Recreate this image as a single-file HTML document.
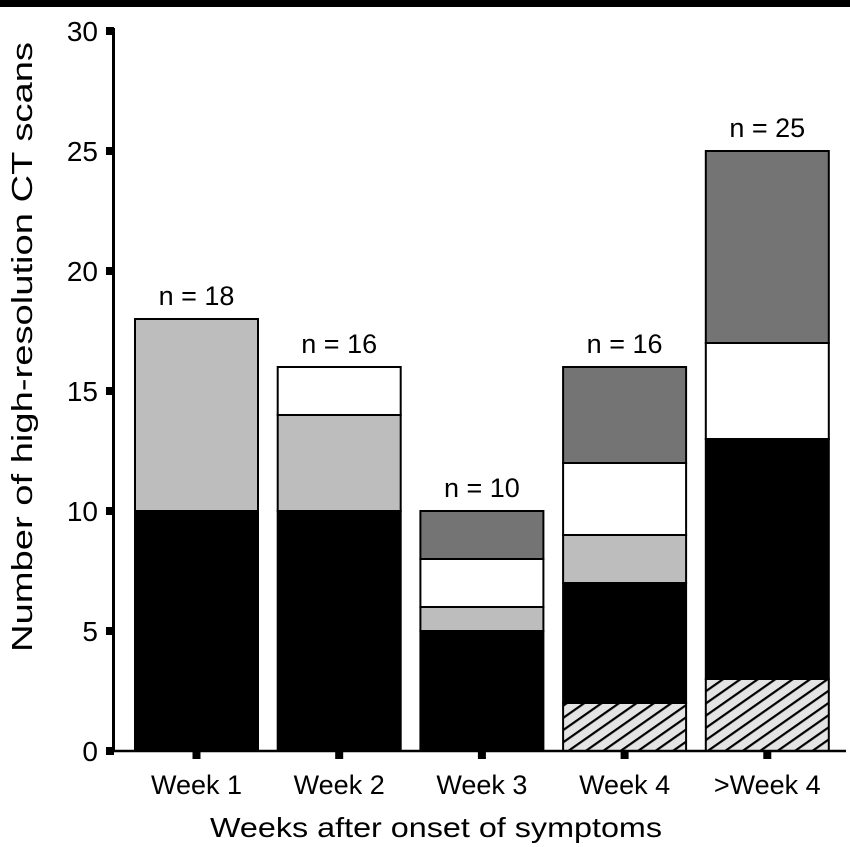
<!DOCTYPE html>
<html><head><meta charset="utf-8"><style>
body{margin:0;background:#fff;}
svg{display:block;font-family:"Liberation Sans",Arial,sans-serif;}
</style></head><body>
<svg id="chart" width="850" height="847" viewBox="0 0 850 847">
<defs>
<pattern id="hatch" patternUnits="userSpaceOnUse" width="10" height="10" patternTransform="rotate(-35)">
<rect width="10" height="10" fill="#e4e4e4"/>
<rect x="0" y="0" width="10" height="2.2" fill="#000"/>
</pattern>
</defs>
<rect x="0" y="0" width="850" height="7" fill="#000"/>
<g id="bars"></g>
<g id="axes"></g>
<text x="32" y="347" transform="rotate(-90 32 347)" text-anchor="middle" font-size="29" textLength="610" lengthAdjust="spacingAndGlyphs" fill="#000">Number of high-resolution CT scans</text>
<text x="436" y="837" text-anchor="middle" font-size="28" textLength="452" lengthAdjust="spacingAndGlyphs" fill="#000">Weeks after onset of symptoms</text>
</svg>
<script>
const categories = ["Week 1","Week 2","Week 3","Week 4",">Week 4"];
const hatched   = [0,0,0,2,3];
const black     = [10,10,5,5,10];
const lightGray = [8,4,1,2,0];
const white     = [0,2,2,3,4];
const darkGray  = [0,0,2,4,8];
const totalLabels = ["n = 18","n = 16","n = 10","n = 16","n = 25"];
const yTicks = [0,5,10,15,20,25,30];

const ns="http://www.w3.org/2000/svg";
const y0=751, pxPerUnit=24;
const yScale=v=>y0-v*pxPerUnit;
const xCenter=i=>196.5+i*142.7;
const barW=123;
const series=[
 {vals:hatched, fill:"url(#hatch)", name:"hatched"},
 {vals:black, fill:"#000", name:"black"},
 {vals:lightGray, fill:"#bdbdbd", name:"light-gray"},
 {vals:white, fill:"#fff", name:"white"},
 {vals:darkGray, fill:"#747474", name:"dark-gray"}
];
const bars=document.getElementById('bars');
const axes=document.getElementById('axes');
function mk(tag,attrs,parent){const e=document.createElementNS(ns,tag);for(const k in attrs)e.setAttribute(k,attrs[k]);parent.appendChild(e);return e;}
categories.forEach((c,i)=>{
  let cum=0;
  const x=xCenter(i)-barW/2;
  series.forEach(s=>{
    const v=s.vals[i];
    if(v>0){
      const r=mk('rect',{x:x,y:yScale(cum+v),width:barW,height:v*pxPerUnit,fill:s.fill,stroke:"#000","stroke-width":2},bars);
      
      
    }
    cum+=v;
  });
  const t=mk('text',{x:xCenter(i),y:yScale(cum)-14,"text-anchor":"middle","font-size":27,fill:"#000"},bars);
  t.textContent=totalLabels[i];
  
  
  const tk=mk('rect',{x:xCenter(i)-4,y:y0+1,width:8,height:7,fill:"#000"},axes);
  
  
  const lb=mk('text',{x:xCenter(i),y:794,"text-anchor":"middle","font-size":27,fill:"#000"},axes);
  lb.textContent=c;
  
  
});
const ya=mk('line',{x1:113.5,y1:yScale(30)-3,x2:113.5,y2:y0+1,stroke:"#000","stroke-width":3},axes);


const xa=mk('line',{x1:112,y1:y0,x2:846,y2:y0,stroke:"#000","stroke-width":2.5},axes);


yTicks.forEach(v=>{
  const tk=mk('rect',{x:106,y:yScale(v)-4,width:8,height:8,fill:"#000"},axes);
  
  
  const t=mk('text',{x:98,y:yScale(v)+10,"text-anchor":"end","font-size":28,fill:"#000"},axes);
  t.textContent=v;
  
  
});
</script>
</body></html>
